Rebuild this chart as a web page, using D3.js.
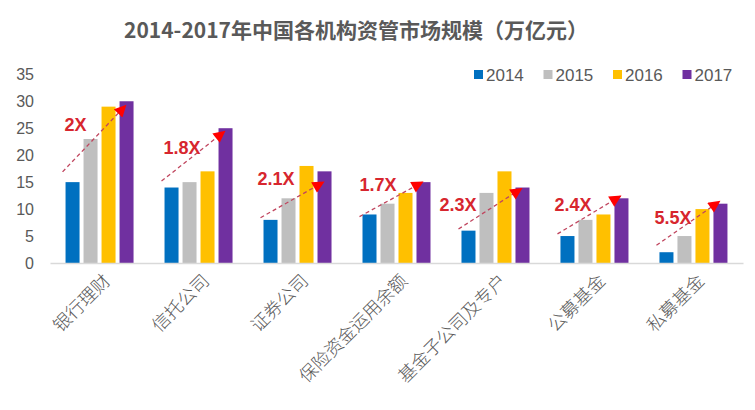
<!DOCTYPE html>
<html>
<head>
<meta charset="utf-8">
<script src="https://cdn.jsdelivr.net/npm/d3@7"></script>
<style>
  body { margin: 0; background: #fff; }
  svg text { font-family: "Liberation Sans", Arial, sans-serif; }
</style>
</head>
<body>
<div id="chart"></div>
<script>
// data
const categories = ['银行理财', '信托公司', '证券公司', '保险资金运用余额', '基金子公司及专户', '公募基金', '私募基金'];
const years = ['2014', '2015', '2016', '2017'];
const v2014 = [15, 14, 8, 9, 6, 5, 2];
const v2015 = [23, 15, 12, 11, 13, 8, 5];
const v2016 = [29, 17, 18, 13, 17, 9, 10];
const v2017 = [30, 25, 17, 15, 14, 12, 11];
const yTicks = [0, 5, 10, 15, 20, 25, 30, 35];

// growth annotations (value units)
const multiples = ['2X', '1.8X', '2.1X', '1.7X', '2.3X', '2.4X', '5.5X'];
const trendFrom = [16.9, 15.2, 8.4, 8.6, 6.3, 5.4, 3.3];
const trendTo = [29.2, 24.4, 15.0, 15.0, 13.8, 12.4, 11.4];
const labelAt = [25.6, 21.4, 15.6, 14.5, 10.8, 10.8, 8.4];

const w = 755;
const h = 410;
const colors = ['#0070c0', '#bfbfbf', '#ffc000', '#7030a0'];
const series = [v2014, v2015, v2016, v2017];

const svg = d3.select('#chart')
    .append('svg')
    .attr('width', w)
    .attr('height', h);

// Title
svg.append('text')
    .attr('x', 356)
    .attr('y', 38)
    .attr('text-anchor', 'middle')
    .style('font-family', '"Noto Sans CJK SC", sans-serif')
    .style('font-size', '21px')
    .style('font-weight', 'bold')
    .attr('fill', '#595959')
    .text('2014-2017年中国各机构资管市场规模（万亿元）');

// Scales
const x0 = d3.scaleBand()
    .domain(categories)
    .range([50, 743])
    .paddingInner(0.313)
    .paddingOuter(0.157);

const x1 = d3.scaleBand()
    .domain(years)
    .range([0, x0.bandwidth()])
    .paddingInner(0.222);

const y = d3.scaleLinear()
    .domain([0, 35])
    .range([263, 74.3]);

// Y axis (labels only)
const yAxis = svg.append('g')
    .attr('transform', 'translate(50,0)')
    .call(d3.axisLeft(y).tickValues(yTicks).tickSize(0).tickPadding(16));
yAxis.select('.domain').remove();
yAxis.selectAll('text')
    .style('font-size', '16px')
    .attr('fill', '#595959');

// Bars
const groups = svg.selectAll('g.group')
    .data(categories)
    .enter()
    .append('g')
    .attr('class', 'group')
    .attr('transform', d => `translate(${x0(d)},0)`);

groups.selectAll('rect')
    .data((d, i) => years.map((yr, k) => ({ yr, k, v: series[k][i] })))
    .enter()
    .append('rect')
    .attr('x', d => x1(d.yr))
    .attr('y', d => y(d.v))
    .attr('width', x1.bandwidth())
    .attr('height', d => y(0) - y(d.v))
    .attr('fill', d => colors[d.k]);

// X axis
const xAxis = svg.append('g')
    .attr('transform', `translate(0,${y(0)})`)
    .call(d3.axisBottom(x0).tickSize(0).tickPadding(0));
xAxis.select('.domain')
    .attr('stroke', '#d9d9d9')
    .attr('stroke-width', 1.5);
xAxis.selectAll('text')
    .style('font-family', '"Noto Sans CJK SC", sans-serif')
    .style('font-size', '18px')
    .style('font-weight', '300')
    .attr('fill', '#595959')
    .attr('text-anchor', 'end')
    .attr('dy', '0')
    .attr('transform', 'translate(12,19) rotate(-45)');

// Arrow marker
svg.append('defs')
    .append('marker')
    .attr('id', 'arrow')
    .attr('viewBox', '0 0 10 10')
    .attr('refX', 9)
    .attr('refY', 5)
    .attr('markerUnits', 'userSpaceOnUse')
    .attr('markerWidth', 13)
    .attr('markerHeight', 12)
    .attr('orient', 'auto')
    .append('path')
    .attr('d', 'M0,0 L10,5 L0,10 Z')
    .attr('fill', '#ff0000');

// Growth annotations
const labelDx = [-1, -1, -6, -3, -22, -6, -5];
const ann = svg.append('g');
categories.forEach((c, i) => {
    const xs = x0(c) + x1('2014') - 3;
    const xe = x0(c) + x1('2017') + x1.bandwidth() / 2 - 1;
    ann.append('line')
        .attr('x1', xs)
        .attr('y1', y(trendFrom[i]))
        .attr('x2', xe)
        .attr('y2', y(trendTo[i]))
        .attr('stroke', '#c0455e')
        .attr('stroke-width', 1.3)
        .attr('stroke-dasharray', '4,3')
        .attr('marker-end', 'url(#arrow)');
    ann.append('text')
        .attr('x', x0(c) + x1('2014') + labelDx[i])
        .attr('y', y(labelAt[i]))
        .attr('dy', '0.36em')
        .style('font-size', '18px')
        .style('font-weight', 'bold')
        .attr('fill', '#d7262e')
        .text(multiples[i]);
});

// Legend
const legend = svg.append('g')
    .attr('transform', 'translate(474,70)');
years.forEach((yr, k) => {
    legend.append('rect')
        .attr('x', k * 69.5)
        .attr('y', 0)
        .attr('width', 9)
        .attr('height', 9)
        .attr('fill', colors[k]);
    legend.append('text')
        .attr('x', k * 69.5 + 12)
        .attr('y', 4.5)
        .attr('dy', '0.36em')
        .style('font-size', '17px')
        .attr('fill', '#595959')
        .text(yr);
});
</script>
</body>
</html>
